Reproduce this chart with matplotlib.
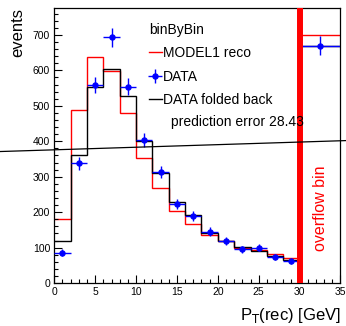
import numpy as np
import matplotlib
matplotlib.use("Agg")
import matplotlib.pyplot as plt
from matplotlib.lines import Line2D
from matplotlib.ticker import MultipleLocator

plt.rcParams["font.family"] = ["Liberation Sans", "DejaVu Sans"]

# bin edges in P_T(rec); last bin (30-35) holds the overflow
edges = [0, 2, 4, 6, 8, 10, 12, 14, 16, 18, 20, 22, 24, 26, 28, 30, 35]
model_reco = [182, 488, 637, 599, 479, 354, 269, 204, 167, 136, 118, 100, 93, 82, 72, 700]
data_folded = [120, 361, 552, 603, 527, 400, 310, 230, 192, 142, 120, 103, 90, 77, 65, 670]
data_vals = [86, 338, 559, 693, 554, 404, 313, 223, 190, 145, 119, 95, 100, 73, 62, 670]
data_errs = [9.3, 18.4, 23.6, 26.3, 23.5, 20.1, 17.7, 14.9, 13.8, 12.0, 10.9, 9.7, 10.0, 8.5, 7.9, 25.9]
pred_error = 28.43

# stray line crossing the canvas
cut_x = [-6.67, 35.84]
cut_y = [371, 402]

edges_a = np.array(edges, dtype=float)
centers = 0.5 * (edges_a[1:] + edges_a[:-1])
half_w = 0.5 * np.diff(edges_a)

fig = plt.figure(figsize=(3.46, 3.26), dpi=100)
ax = fig.add_axes([0.157, 0.1316, 0.827, 0.843])

ax.stairs(model_reco, edges, baseline=None, color="#ff0000", lw=1.0)
ax.stairs(data_folded, edges, baseline=None, color="black", lw=1.0)
ax.errorbar(centers, data_vals, xerr=half_w, yerr=data_errs, fmt="o",
            color="#0000ff", ms=3.6, elinewidth=1.0, capsize=0, zorder=5)

ax.axvline(30, color="#ff0000", lw=4.3, zorder=6)
ax.text(32.5, 210, "overflow bin", color="#ff0000", rotation=90,
        ha="center", va="center", fontsize=11.5)

ax.plot(cut_x, cut_y, color="black", lw=0.9, clip_on=False, zorder=7)

ax.set_xlim(0, 35)
ax.set_ylim(0, 775)
ax.xaxis.set_major_locator(MultipleLocator(5))
ax.xaxis.set_minor_locator(MultipleLocator(1))
ax.yaxis.set_major_locator(MultipleLocator(100))
ax.yaxis.set_minor_locator(MultipleLocator(20))
ax.tick_params(which="both", direction="in", labelsize=7.5)
ax.tick_params(which="major", length=6, width=0.8)
ax.tick_params(which="minor", length=3, width=0.8)
ax.tick_params(axis="y", pad=3)
ax.tick_params(axis="x", pad=2.5)
for s in ax.spines.values():
    s.set_linewidth(0.9)

ax.set_xlabel(r"P$_{\mathrm{T}}$(rec) [GeV]", fontsize=12)
ax.xaxis.set_label_coords(1.0, -0.085)
ax.xaxis.label.set_ha("right")
fig.text(18 / 346, 1 - 8 / 326, "events", rotation=90, ha="center", va="top",
         fontsize=12)

handles = [
    Line2D([], [], color="#ff0000", lw=1.0),
    ax.errorbar([], [], xerr=[], yerr=[], fmt="o", color="#0000ff", ms=3.6,
                elinewidth=1.0),
    Line2D([], [], color="black", lw=1.0),
]
labels = ["MODEL1 reco", "DATA", "DATA folded back"]
leg = ax.legend(handles, labels, title="binByBin", loc="upper left",
                bbox_to_anchor=(0.28, 1.0), frameon=False, fontsize=10,
                title_fontsize=10, handlelength=0.9, handletextpad=0.1,
                labelspacing=0.68, borderaxespad=0.65)
leg._legend_box.align = "left"
ax.text(0.409, 0.587, "prediction error %.2f" % pred_error,
        transform=ax.transAxes, fontsize=10, va="center", ha="left", zorder=8)

fig.savefig("out.png", dpi=100, facecolor="white")
